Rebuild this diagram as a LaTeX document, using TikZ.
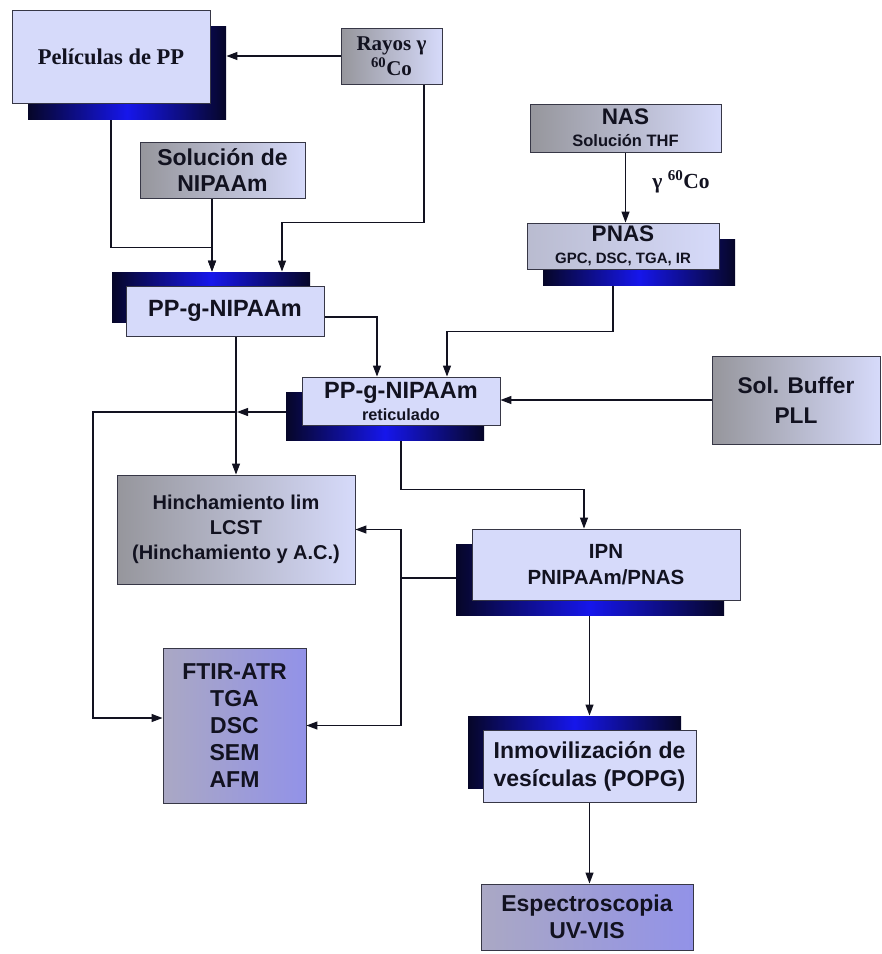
\documentclass[tikz,border=0pt]{standalone}
\usepackage{fontspec}
\setmainfont{Liberation Sans}
\newfontfamily\timesfont{Liberation Serif}
\usepackage{xcolor}
\usepackage{tikz}
\usetikzlibrary{arrows.meta,shadows,backgrounds}
\definecolor{inkDark}{RGB}{18,18,32}
\definecolor{edgeGray}{RGB}{55,55,70}
\definecolor{paleLavender}{RGB}{214,218,250}
\definecolor{stoneGray}{RGB}{150,150,156}
\definecolor{deepViolet}{RGB}{146,146,232}
\definecolor{violetGray}{RGB}{170,168,196}
\definecolor{shadowNavy}{RGB}{6,6,40}
\definecolor{shadowBlue}{RGB}{22,22,235}
\tikzset{
  flowbox/.style={
    rectangle, draw=edgeGray, line width=0.9pt, fill=paleLavender,
    text=inkDark, align=center, inner sep=0pt,
    font=\fontsize{20}{26}\selectfont\bfseries
  },
  graybox/.style={flowbox, left color=stoneGray, right color=paleLavender},
  mistbox/.style={flowbox, left color=stoneGray!45!paleLavender, right color=paleLavender},
  violetbox/.style={flowbox, left color=violetGray, right color=deepViolet},
  navyshadow/.style 2 args={
    general shadow={shadow xshift=#1, shadow yshift=#2,
      left color=shadowNavy, right color=shadowNavy, middle color=shadowBlue}
  },
  flowArrow/.style={-{Triangle[length=11pt,width=8pt]}, line width=1.2pt, color=inkDark},
  flowLine/.style={line width=1.2pt, color=inkDark}
}

\begin{document}
\begin{tikzpicture}[x=1pt, y=-1pt]
  \useasboundingbox (0,0) rectangle (882,954);

  % raw materials and irradiation
  \node[flowbox, navyshadow={16pt}{-16pt}, minimum width=198pt, minimum height=93pt,
        font=\timesfont\fontsize{22.5}{26}\selectfont\bfseries] (pelicula) at (111,56.5)
    {Películas de PP};
  \node[graybox, minimum width=101pt, minimum height=56pt,
        font=\timesfont\fontsize{21}{25}\selectfont\bfseries] (rayos) at (391.5,56)
    {Rayos γ\\\textsuperscript{60}Co};
  \node[graybox, minimum width=165pt, minimum height=56pt,
        font=\fontsize{23}{26}\selectfont\bfseries] (solucion) at (222.5,170)
    {Solución de\\NIPAAm};
  \node[graybox, minimum width=191pt, minimum height=48pt,
        font=\fontsize{22.5}{22}\selectfont\bfseries] (nas) at (625.5,128)
    {NAS\\{\fontsize{16.5}{17}\selectfont Solución THF}};
  \node[font=\timesfont\fontsize{21.5}{22}\selectfont\bfseries, text=inkDark] (gammaTag) at (681,182)
    {γ \textsuperscript{60}Co};
  \node[mistbox, navyshadow={16pt}{-16pt}, minimum width=192pt, minimum height=46pt,
        font=\fontsize{22.5}{22}\selectfont\bfseries] (pnas) at (623,246)
    {PNAS\\{\fontsize{15}{16}\selectfont GPC, DSC, TGA, IR}};

  % grafting and crosslinking
  \node[flowbox, navyshadow={-14pt}{14pt}, minimum width=198pt, minimum height=50pt,
        font=\fontsize{23.5}{26}\selectfont\bfseries] (ppg) at (225,311)
    {PP-g-NIPAAm};
  \node[flowbox, navyshadow={-16pt}{-15pt}, minimum width=198pt, minimum height=48pt,
        font=\fontsize{23.5}{22}\selectfont\bfseries] (ppgret) at (401,401)
    {PP-g-NIPAAm\\{\fontsize{16.3}{17}\selectfont reticulado}};
  \node[graybox, minimum width=168pt, minimum height=88pt,
        font=\fontsize{22.7}{30}\selectfont\bfseries] (buffer) at (796,400)
    {Sol. Buffer\\PLL};

  % characterisation and final steps
  \node[graybox, minimum width=238pt, minimum height=109pt,
        font=\fontsize{20}{25}\selectfont\bfseries] (hinch) at (236,529.5)
    {Hinchamiento lim\\LCST\\(Hinchamiento y A.C.)};
  \node[flowbox, navyshadow={-16pt}{-15pt}, minimum width=268pt, minimum height=71pt,
        font=\fontsize{20.5}{26}\selectfont\bfseries] (ipn) at (606,564.5)
    {IPN\\PNIPAAm/PNAS};
  \node[violetbox, minimum width=143pt, minimum height=155pt,
        font=\fontsize{23}{27}\selectfont\bfseries] (ftir) at (234.5,725.5)
    {FTIR-ATR\\TGA\\DSC\\SEM\\AFM};
  \node[flowbox, navyshadow={-15pt}{14pt}, minimum width=213pt, minimum height=72pt,
        font=\fontsize{23}{28}\selectfont\bfseries] (inmov) at (589.5,766)
    {Inmovilización de\\vesículas (POPG)};
  \node[violetbox, minimum width=212pt, minimum height=66pt,
        font=\fontsize{23}{27}\selectfont\bfseries] (espectro) at (587,917)
    {Espectroscopia\\UV-VIS};

  \coordinate (ppgIn) at ([xshift=-13pt,yshift=14pt]ppg.north);
  \coordinate (retTap) at (237,412);
  \coordinate (ipnTap) at (401,578);

  \begin{scope}[on background layer]
    \draw[flowArrow] (rayos.west) -- ([xshift=16pt]rayos.west -| pelicula.east);
    \draw[flowArrow] ([xshift=32.5pt]rayos.south) -- ++(0,138) -| ([xshift=57pt,yshift=14pt]ppg.north);
    \draw[flowArrow] (pelicula.south) -- ++(0,144) -| (ppgIn);
    \draw[flowArrow] (solucion.south -| ppgIn) -- (ppgIn);
    \draw[flowArrow] (nas.south) -- (nas.south |- pnas.north);
    \draw[flowArrow] ([xshift=-10pt]pnas.south) -- ++(0,62) -| ([xshift=46pt]ppgret.north);
    \draw[flowArrow] ([yshift=-6pt]ppg.east) -| ([xshift=-24pt]ppgret.north);
    \draw[flowArrow] (buffer.west) -- (buffer.west -| ppgret.east);
    \draw[flowArrow] (hinch.north |- ppg.south) -- (hinch.north);
    \draw[flowArrow] ([yshift=-11pt]ppgret.west) -- (retTap);
    \draw[flowArrow] (retTap) -- ++(-144,0) |- ([yshift=7.5pt]ftir.west);
    \draw[flowArrow] (ppgret.south) -- ++(0,64) -| ([xshift=-22pt]ipn.north);
    \draw[flowLine] ([yshift=-13.5pt]ipn.west) -- (ipnTap);
    \draw[flowArrow] (ipnTap) |- (hinch.east);
    \draw[flowArrow] (ipnTap) |- (ftir.east);
    \draw[flowArrow] (ipn.south -| inmov.north) -- ([yshift=14pt]inmov.north);
    \draw[flowArrow] (inmov.south) -- (inmov.south |- espectro.north);
  \end{scope}
\end{tikzpicture}
\end{document}
